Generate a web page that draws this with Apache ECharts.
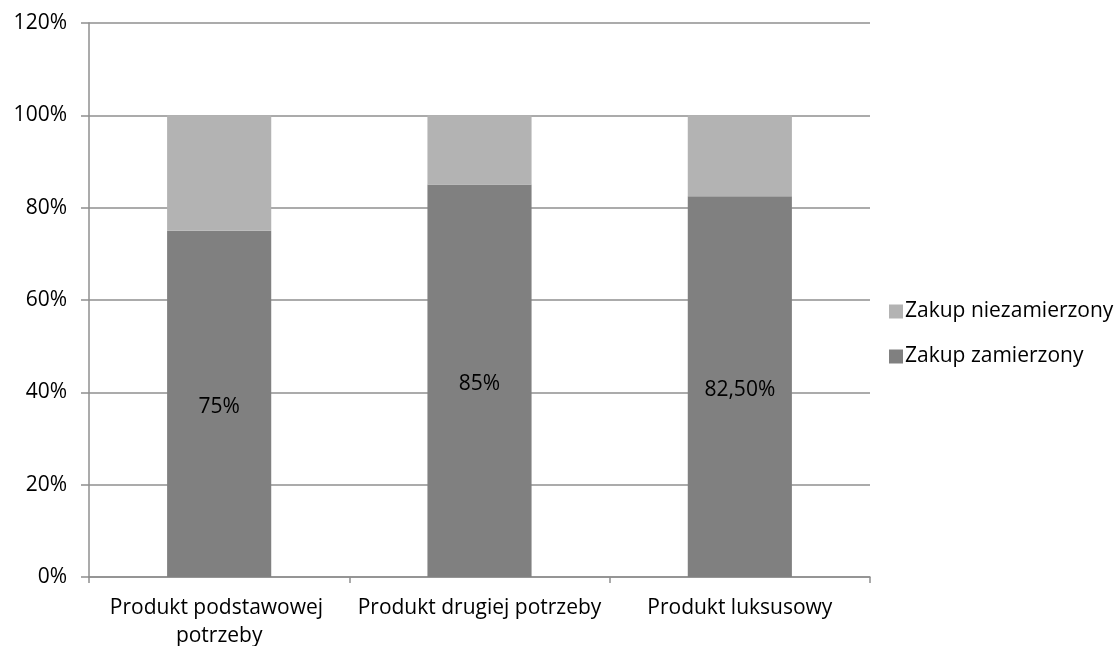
<!DOCTYPE html>
<html>
<head>
<meta charset="utf-8">
<script src="https://cdn.jsdelivr.net/npm/echarts@6/dist/echarts.min.js"></script>
<style>
  html, body { margin: 0; padding: 0; background: #fff; }
  #chart { width: 1119px; height: 646px; }
</style>
</head>
<body>
<div id="chart"></div>
<script>
// Share of intended vs unintended purchases by product type
const categories = ['Produkt podstawowej potrzeby', 'Produkt drugiej potrzeby', 'Produkt luksusowy'];
const intended = [75, 85, 82.5];
const unintended = [25, 15, 17.5];
const seriesNames = ['Zakup zamierzony', 'Zakup niezamierzony'];

const FONT = 'Open Sans';
const FONT_SIZE = 21;
const GRID_COLOR = '#8f8f8f';

function pct(v) {
  return Number.isInteger(v) ? v + '%' : v.toFixed(2).replace('.', ',') + '%';
}

const chart = echarts.init(document.getElementById('chart'), null, { renderer: 'canvas' });
chart.setOption({
  animation: false,
  backgroundColor: '#fff',
  textStyle: { fontFamily: FONT, color: '#000' },
  grid: { left: 89, right: 249, top: 23, bottom: 69, containLabel: false, outerBoundsMode: 'none' },
  legend: {
    orient: 'vertical',
    left: 884,
    top: 296,
    itemGap: 24,
    itemWidth: 14,
    itemHeight: 14,
    icon: 'rect',
    data: [seriesNames[1], seriesNames[0]],
    textStyle: { fontFamily: FONT, fontSize: FONT_SIZE, color: '#000', padding: [0, 0, 0, -3] }
  },
  xAxis: {
    type: 'category',
    data: categories,
    axisLine: { lineStyle: { color: GRID_COLOR, width: 1.5 } },
    axisTick: { show: true, length: 6, lineStyle: { color: GRID_COLOR, width: 1.5 } },
    axisLabel: {
      fontFamily: FONT, fontSize: FONT_SIZE, color: '#000', margin: 17, lineHeight: 28,
      width: 258, overflow: 'break', interval: 0
    }
  },
  yAxis: {
    type: 'value',
    min: 0, max: 120, interval: 20,
    axisLine: { show: true, lineStyle: { color: GRID_COLOR, width: 1.5 } },
    axisTick: { show: true, length: 8, lineStyle: { color: GRID_COLOR, width: 1.5 } },
    splitLine: { lineStyle: { color: GRID_COLOR, width: 1.5 } },
    axisLabel: {
      fontFamily: FONT, fontSize: FONT_SIZE, color: '#000', margin: 22,
      formatter: v => v + '%'
    }
  },
  series: [
    {
      name: seriesNames[0],
      type: 'bar',
      stack: 'total',
      barWidth: '40%',
      data: intended,
      itemStyle: { color: '#808080' },
      label: {
        show: true, position: 'inside', offset: [0, 3],
        fontFamily: FONT, fontSize: FONT_SIZE, color: '#000',
        formatter: p => pct(p.value)
      }
    },
    {
      name: seriesNames[1],
      type: 'bar',
      stack: 'total',
      barWidth: '40%',
      data: unintended,
      itemStyle: { color: '#b3b3b3' }
    }
  ]
});
</script>
</body>
</html>
